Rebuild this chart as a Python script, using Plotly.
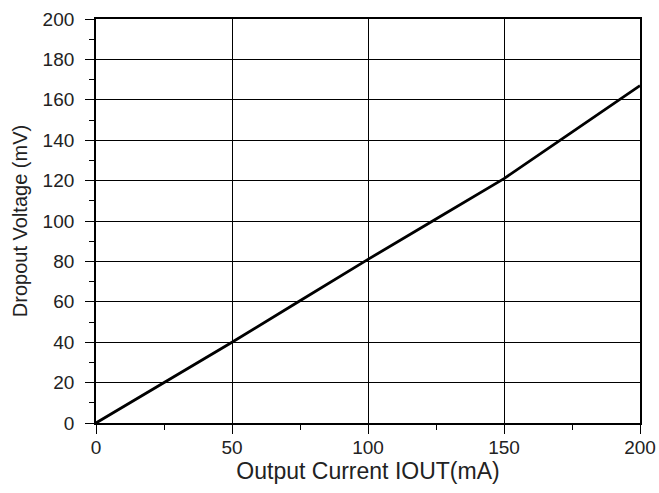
import plotly.graph_objects as go

current_ma = [0, 25, 50, 75, 100, 125, 150, 175, 200]
dropout_mv = [0, 20, 40, 60.5, 81, 101, 121, 144, 167]

x_ticks = [0, 50, 100, 150, 200]
y_ticks = [0, 20, 40, 60, 80, 100, 120, 140, 160, 180, 200]

fig = go.Figure()
fig.add_trace(go.Scatter(x=current_ma, y=dropout_mv, mode="lines",
                         line=dict(color="black", width=2.8), showlegend=False))

font = dict(family="Liberation Sans, Arial, sans-serif", size=19, color="#222")

fig.update_layout(
    width=659, height=493,
    margin=dict(l=96, r=19, t=19, b=70, autoexpand=False),
    paper_bgcolor="white", plot_bgcolor="white",
    font=font,
    xaxis=dict(range=[0, 200], tickvals=x_ticks, showgrid=True, gridcolor="black", gridwidth=1,
               showline=True, linecolor="black", linewidth=1.8, mirror=True,
               ticks="outside", ticklen=9, tickcolor="black", tickwidth=1.2,
               minor=dict(dtick=25, ticks="outside", ticklen=5, tickcolor="black", showgrid=False),
               zeroline=False, automargin=False, ticklabelstandoff=-3,
               title=dict(text="Output Current IOUT(mA)", standoff=6),
               tickfont=font),
    yaxis=dict(range=[0, 200], tickvals=y_ticks, showgrid=True, gridcolor="black", gridwidth=1,
               showline=True, linecolor="black", linewidth=1.8, mirror=True,
               ticks="outside", ticklen=9, tickcolor="black", tickwidth=1.2,
               minor=dict(dtick=10, ticks="outside", ticklen=5, tickcolor="black", showgrid=False),
               zeroline=False, automargin=False, ticklabelstandoff=7,
               title=dict(text="Dropout Voltage (mV)", standoff=10,
                          font=dict(family="Liberation Sans, Arial, sans-serif", size=20, color="#222")),
               tickfont=font),
)

fig.write_html("out.html", config={"displayModeBar": False},
               post_script="document.body.style.margin='0';document.body.style.overflow='hidden';")
